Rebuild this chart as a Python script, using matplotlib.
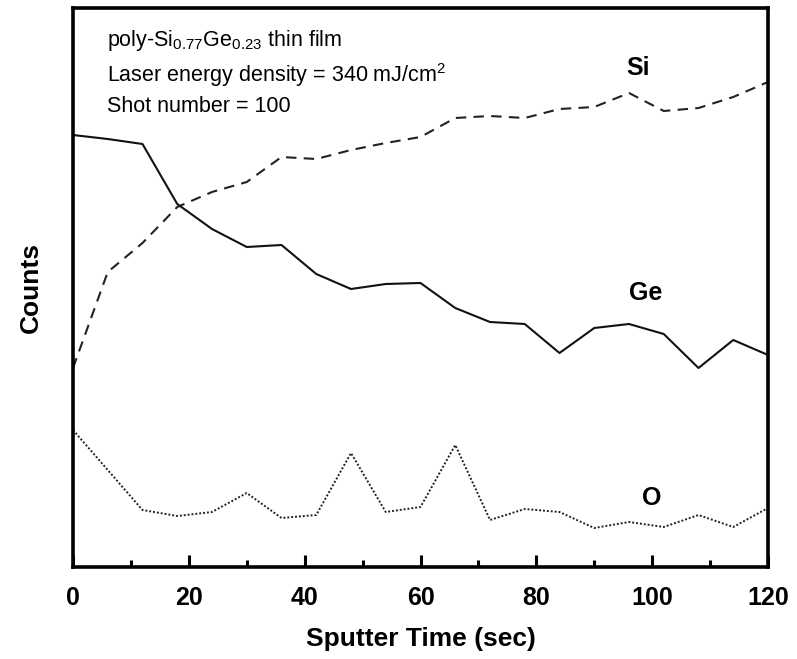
import matplotlib
matplotlib.use("Agg")
import matplotlib.pyplot as plt
from matplotlib.ticker import MultipleLocator, NullLocator

# Sputter time (sec)
time = [0, 6, 12, 18, 24, 30, 36, 42, 48, 54, 60, 66, 72, 78, 84, 90, 96, 102, 108, 114, 120]
# Counts (arbitrary units)
si_counts = [199, 295, 324, 360, 375, 385, 410, 408, 417, 424, 430, 449, 451, 449, 458, 460, 474, 456, 459, 470, 485]
ge_counts = [432, 428, 423, 363, 338, 320, 322, 293, 278, 283, 284, 259, 245, 243, 214, 239, 243, 233, 199, 227, 212]
o_counts = [137, 97, 57, 51, 55, 74, 49, 52, 114, 55, 60, 122, 47, 58, 55, 39, 45, 40, 52, 40, 59]

plt.rcParams['font.family'] = ['Liberation Sans', 'DejaVu Sans']
plt.rcParams['mathtext.default'] = 'regular'

fig = plt.figure(figsize=(7.97, 6.59), dpi=100)
ax = fig.add_axes([73/797, (659-567)/659, (768-73)/797, (567-8)/659])

ax.plot(time, si_counts, color='#222222', lw=1.5, linestyle=(0, (5, 3.5)))
ax.plot(time, ge_counts, color='#111111', lw=1.5, linestyle='-')
ax.plot(time, o_counts, color='#222222', lw=1.4, linestyle=(0, (1, 1)))

ax.set_xlim(0, 120)
ax.set_ylim(0, 559)

ax.xaxis.set_major_locator(MultipleLocator(20))
ax.xaxis.set_minor_locator(MultipleLocator(10))
ax.yaxis.set_major_locator(NullLocator())
ax.yaxis.set_minor_locator(NullLocator())
ax.tick_params(axis='x', which='major', direction='in', length=9, width=2.2, pad=14)
ax.tick_params(axis='x', which='minor', direction='in', length=5, width=2.2)
ax.tick_params(axis='x', which='both', top=False)
for lab in ax.get_xticklabels():
    lab.set_fontfamily(['Liberation Sans Narrow', 'Liberation Sans'])
    lab.set_fontweight('bold')
    lab.set_fontsize(18)

for sp in ax.spines.values():
    sp.set_linewidth(2.6)

ax.set_xlabel('Sputter Time (sec)', fontsize=19, fontweight='bold',
              family=['Liberation Sans Narrow', 'Liberation Sans'], labelpad=12)
ax.set_ylabel('Counts', fontsize=19, fontweight='bold', labelpad=22)

ax.text(0.049, 0.941, 'poly-Si$_{0.77}$Ge$_{0.23}$ thin film', transform=ax.transAxes,
        fontsize=15.5, va='center', ha='left')
ax.text(0.049, 0.880, 'Laser energy density = 340 mJ/cm$^{2}$', transform=ax.transAxes,
        fontsize=15.5, va='center', ha='left')
ax.text(0.049, 0.823, 'Shot number = 100', transform=ax.transAxes,
        fontsize=15.5, va='center', ha='left')

ax.text(97.6, 499, 'Si', fontsize=18, fontweight='bold', ha='center', va='center')
ax.text(98.8, 274, 'Ge', fontsize=18, fontweight='bold', ha='center', va='center')
ax.text(100, 69, 'O', fontsize=18, fontweight='bold', ha='center', va='center')

fig.savefig('out.png', dpi=100)
